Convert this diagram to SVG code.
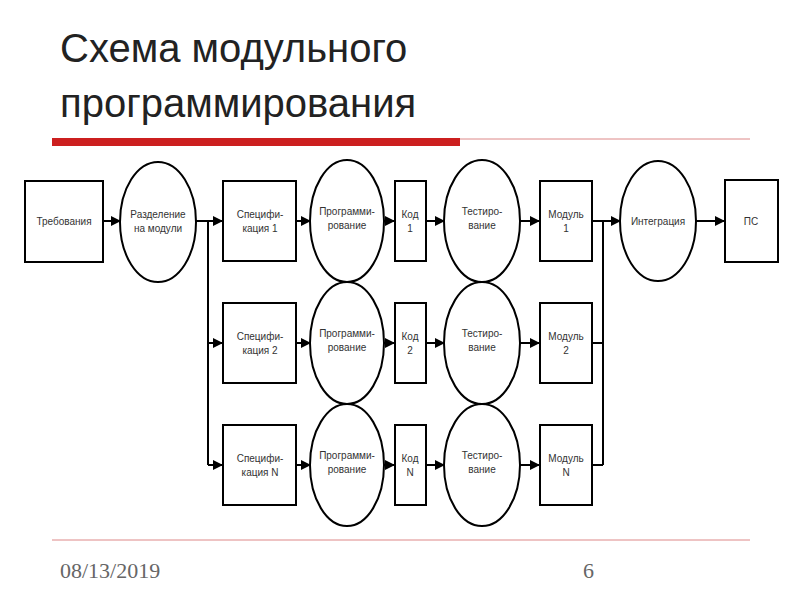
<svg xmlns="http://www.w3.org/2000/svg" width="800" height="600" viewBox="0 0 800 600">
<defs>
<style>
.b{fill:#fff;stroke:#000;stroke-width:2}
.t{font-family:"Liberation Sans",Arial,sans-serif;font-size:10px;fill:#333;text-anchor:middle}
.c{stroke:#000;stroke-width:2;fill:none}
</style>
<marker id="a" viewBox="0 0 10 10" refX="9" refY="5" markerWidth="5" markerHeight="5" orient="auto"><path d="M0,0L10,5L0,10z" fill="#000"/></marker>
</defs>
<rect width="800" height="600" fill="#fff"/>
<text x="60" y="62" font-family="Liberation Sans,Arial,sans-serif" font-size="40" fill="#222">Схема модульного</text>
<text x="60" y="117" font-family="Liberation Sans,Arial,sans-serif" font-size="40" fill="#222">программирования</text>
<rect x="52" y="138" width="408" height="8" fill="#cc1f1f"/>
<line x1="460" y1="139" x2="750" y2="139" stroke="#d88" stroke-width="1"/>
<line x1="52" y1="540" x2="750" y2="540" stroke="#d88" stroke-width="1"/>
<text x="60" y="578" font-family="Liberation Serif,serif" font-size="22" fill="#666">08/13/2019</text>
<text x="583" y="578" font-family="Liberation Serif,serif" font-size="22" fill="#666">6</text>
<g id="n-req"><rect class="b" x="25" y="181" width="78" height="81"/><text class="t" x="64" y="225">Требования</text></g>
<g id="n-split"><ellipse class="b" cx="158" cy="222" rx="38" ry="60"/><text class="t" x="158" y="218">Разделение</text><text class="t" x="158" y="232">на модули</text></g>
<g id="n-spec1"><rect class="b" x="223" y="181" width="73" height="80"/><text class="t" x="260" y="218">Специфи-</text><text class="t" x="260" y="232">кация 1</text></g>
<g id="n-prog1"><ellipse class="b" cx="347" cy="221" rx="37" ry="61"/><text class="t" x="347" y="215">Программи-</text><text class="t" x="347" y="229">рование</text></g>
<g id="n-code1"><rect class="b" x="395" y="181" width="31" height="80"/><text class="t" x="410" y="218">Код</text><text class="t" x="410" y="232">1</text></g>
<g id="n-test1"><ellipse class="b" cx="482" cy="221" rx="38" ry="61"/><text class="t" x="482" y="215">Тестиро-</text><text class="t" x="482" y="229">вание</text></g>
<g id="n-mod1"><rect class="b" x="540" y="181" width="52" height="80"/><text class="t" x="566" y="218">Модуль</text><text class="t" x="566" y="232">1</text></g>
<g id="n-spec2"><rect class="b" x="223" y="303" width="73" height="80"/><text class="t" x="260" y="340">Специфи-</text><text class="t" x="260" y="354">кация 2</text></g>
<g id="n-prog2"><ellipse class="b" cx="347" cy="343" rx="37" ry="61"/><text class="t" x="347" y="337">Программи-</text><text class="t" x="347" y="351">рование</text></g>
<g id="n-code2"><rect class="b" x="395" y="303" width="31" height="80"/><text class="t" x="410" y="340">Код</text><text class="t" x="410" y="354">2</text></g>
<g id="n-test2"><ellipse class="b" cx="482" cy="343" rx="38" ry="61"/><text class="t" x="482" y="337">Тестиро-</text><text class="t" x="482" y="351">вание</text></g>
<g id="n-mod2"><rect class="b" x="540" y="303" width="52" height="80"/><text class="t" x="566" y="340">Модуль</text><text class="t" x="566" y="354">2</text></g>
<g id="n-spec3"><rect class="b" x="223" y="425" width="73" height="80"/><text class="t" x="260" y="462">Специфи-</text><text class="t" x="260" y="476">кация N</text></g>
<g id="n-prog3"><ellipse class="b" cx="347" cy="465" rx="37" ry="61"/><text class="t" x="347" y="459">Программи-</text><text class="t" x="347" y="473">рование</text></g>
<g id="n-code3"><rect class="b" x="395" y="425" width="31" height="80"/><text class="t" x="410" y="462">Код</text><text class="t" x="410" y="476">N</text></g>
<g id="n-test3"><ellipse class="b" cx="482" cy="465" rx="38" ry="61"/><text class="t" x="482" y="459">Тестиро-</text><text class="t" x="482" y="473">вание</text></g>
<g id="n-mod3"><rect class="b" x="540" y="425" width="52" height="80"/><text class="t" x="566" y="462">Модуль</text><text class="t" x="566" y="476">N</text></g>
<g id="n-int"><ellipse class="b" cx="658" cy="221" rx="38" ry="60"/><text class="t" x="658" y="225">Интеграция</text></g>
<g id="n-ps"><rect class="b" x="725" y="180" width="53" height="82"/><text class="t" x="751" y="225">ПС</text></g>
<g id="connectors">
<path class="c" marker-end="url(#a)" d="M103,221H120"/>
<path class="c" marker-end="url(#a)" d="M196,221H222"/>
<path class="c" d="M208,221V465"/>
<path class="c" marker-end="url(#a)" d="M208,343H222"/>
<path class="c" marker-end="url(#a)" d="M208,465H222"/>
<path class="c" marker-end="url(#a)" d="M296,221H310"/><path class="c" marker-end="url(#a)" d="M296,343H310"/><path class="c" marker-end="url(#a)" d="M296,465H310"/>
<path class="c" marker-end="url(#a)" d="M384,221H394"/><path class="c" marker-end="url(#a)" d="M384,343H394"/><path class="c" marker-end="url(#a)" d="M384,465H394"/>
<path class="c" marker-end="url(#a)" d="M426,221H444"/><path class="c" marker-end="url(#a)" d="M426,343H444"/><path class="c" marker-end="url(#a)" d="M426,465H444"/>
<path class="c" marker-end="url(#a)" d="M520,221H539"/><path class="c" marker-end="url(#a)" d="M520,343H539"/><path class="c" marker-end="url(#a)" d="M520,465H539"/>
<path class="c" d="M592,221H603M592,343H603M592,465H603M603,221V465"/>
<path class="c" marker-end="url(#a)" d="M603,221H620"/>
<path class="c" marker-end="url(#a)" d="M696,221H724"/>
</g>
</svg>
